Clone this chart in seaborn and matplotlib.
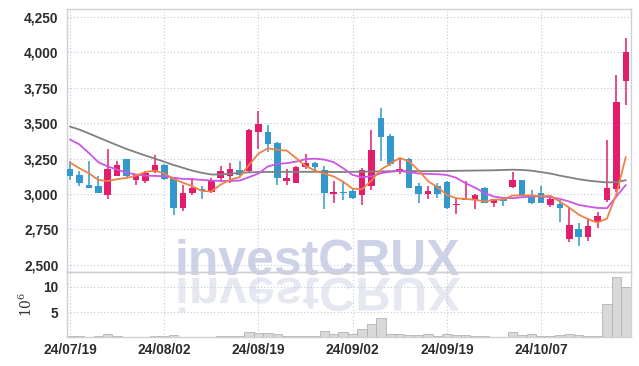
import matplotlib
matplotlib.use('Agg')
import pandas as pd
import matplotlib.pyplot as plt
import seaborn as sns
from matplotlib import font_manager
from matplotlib.textpath import TextPath
from matplotlib.patches import PathPatch
from matplotlib.font_manager import FontProperties
from matplotlib.transforms import Affine2D

# 거래일 (24/07/19 ~ 24/10/21)
dates = ['24/07/19', '24/07/22', '24/07/23', '24/07/24', '24/07/25', '24/07/26', '24/07/29', '24/07/30', '24/07/31', '24/08/01',
         '24/08/02', '24/08/05', '24/08/06', '24/08/07', '24/08/08', '24/08/09', '24/08/12', '24/08/13', '24/08/14', '24/08/16',
         '24/08/19', '24/08/20', '24/08/21', '24/08/22', '24/08/23', '24/08/26', '24/08/27', '24/08/28', '24/08/29', '24/08/30',
         '24/09/02', '24/09/03', '24/09/04', '24/09/05', '24/09/06', '24/09/09', '24/09/10', '24/09/11', '24/09/12', '24/09/13',
         '24/09/19', '24/09/20', '24/09/23', '24/09/24', '24/09/25', '24/09/26', '24/09/27', '24/09/30', '24/10/02', '24/10/04',
         '24/10/07', '24/10/08', '24/10/10', '24/10/11', '24/10/14', '24/10/15', '24/10/16', '24/10/17', '24/10/18', '24/10/21']

opens = [3180, 3135, 3065, 3060, 2995, 3130, 3245, 3100, 3090, 3155,
         3205, 3110, 2905, 3005, 3035, 3015, 3110, 3130, 3170, 3165,
         3435, 3435, 3360, 3095, 3080, 3190, 3220, 3170, 3000, 3015,
         3025, 2995, 3060, 3540, 3410, 3160, 3250, 3055, 3000, 3055,
         3085, 2922, 2960, 2960, 3045, 2935, 2965, 3050, 3100, 2985,
         3005, 2925, 2930, 2685, 2755, 2700, 2805, 2960, 3035, 3800]
closes = [3130, 3080, 3045, 3010, 3175, 3205, 3125, 3140, 3150, 3205,
          3105, 2905, 3005, 3045, 3020, 3100, 3165, 3175, 3135, 3455,
          3495, 3355, 3115, 3115, 3190, 3220, 3190, 3005, 3015, 3005,
          2975, 3170, 3310, 3405, 3210, 3180, 3045, 3000, 3020, 3000,
          2905, 2930, 2968, 2995, 2940, 2965, 2948, 3100, 2995, 2940,
          2940, 2962, 2900, 2780, 2695, 2775, 2845, 3040, 3650, 4000]
highs = [3230, 3165, 3230, 3130, 3315, 3230, 3250, 3145, 3165, 3275,
         3215, 3120, 3065, 3110, 3055, 3110, 3195, 3220, 3230, 3460,
         3585, 3485, 3365, 3175, 3195, 3285, 3225, 3195, 3090, 3095,
         3045, 3185, 3455, 3610, 3425, 3250, 3255, 3075, 3055, 3075,
         3090, 2975, 3090, 2998, 3050, 2968, 2970, 3155, 3100, 3030,
         3055, 2995, 2960, 2905, 2795, 2830, 2870, 3385, 3840, 4100]
lows = [3100, 3060, 3042, 3005, 2965, 3125, 3110, 3065, 3075, 3150,
        3100, 2855, 2880, 2995, 2965, 3010, 3085, 3080, 3130, 3150,
        3320, 3300, 3065, 3062, 3078, 3180, 3170, 2893, 2935, 2960,
        2965, 2923, 3030, 3235, 3200, 3145, 3040, 2935, 2965, 2970,
        2895, 2860, 2958, 2895, 2935, 2908, 2915, 3045, 2990, 2930,
        2935, 2910, 2805, 2660, 2635, 2670, 2760, 2945, 3015, 3630]

# 이동평균선
ma_short = [3222, 3182, 3147, 3100, 3092, 3105, 3114, 3130, 3156, 3165,
            3146, 3106, 3080, 3055, 3022, 3018, 3067, 3101, 3119, 3206,
            3285, 3323, 3311, 3307, 3254, 3199, 3166, 3144, 3124, 3087,
            3038, 3034, 3095, 3173, 3214, 3255, 3230, 3168, 3091, 3049,
            2994, 2971, 2965, 2960, 2948, 2960, 2963, 2990, 2990, 2990,
            2985, 2987, 2947, 2904, 2855, 2822, 2799, 2827, 3001, 3262]
ma_mid = [3385, 3350, 3290, 3225, 3195, 3172, 3152, 3138, 3130, 3128,
          3126, 3115, 3107, 3105, 3100, 3095, 3093, 3093, 3095, 3119,
          3145, 3195, 3213, 3218, 3229, 3246, 3250, 3243, 3225, 3182,
          3135, 3119, 3125, 3147, 3158, 3163, 3155, 3145, 3142, 3140,
          3135, 3115, 3076, 3045, 3008, 2982, 2973, 2971, 2978, 2983,
          2983, 2978, 2966, 2947, 2923, 2912, 2902, 2900, 2983, 3064]
ma_long = [3476, 3455, 3428, 3400, 3372, 3345, 3318, 3295, 3272, 3250,
           3228, 3205, 3185, 3165, 3150, 3138, 3138, 3143, 3150, 3153,
           3155, 3156, 3157, 3157, 3157, 3157, 3157, 3156, 3156, 3156,
           3157, 3158, 3159, 3160, 3161, 3162, 3162, 3162, 3162, 3162,
           3163, 3164, 3165, 3166, 3167, 3168, 3170, 3172, 3170, 3165,
           3155, 3145, 3130, 3118, 3105, 3095, 3088, 3082, 3085, 3098]

# 거래량 (백만 주)
volumes = [0.12, 0.12, 0.10, 0.12, 0.55, 0.15, 0.05, 0.05, 0.10, 0.12,
           0.12, 0.35, 0.05, 0.05, 0.05, 0.08, 0.12, 0.12, 0.15, 0.95,
           0.75, 0.75, 0.55, 0.15, 0.15, 0.12, 0.15, 1.30, 0.55, 0.95,
           0.65, 1.70, 2.70, 3.75, 0.55, 0.55, 0.35, 0.35, 0.70, 0.13,
           0.70, 0.50, 0.50, 0.28, 0.28, 0.07, 0.07, 1.10, 0.35, 0.55,
           0.14, 0.28, 0.50, 0.70, 0.50, 0.28, 0.28, 6.60, 12.0, 10.0]

price_ticks = [2500, 2750, 3000, 3250, 3500, 3750, 4000, 4250]
vol_ticks = [5, 10]

RED = '#e31c6b'
BLUE = '#3399cc'

# 좁은 글꼴이 있으면 사용, 없으면 크기를 줄여서 폭을 맞춤
names = {f.name for f in font_manager.fontManager.ttflist}
if 'Liberation Sans Narrow' in names:
    base_font, shrink = 'Liberation Sans Narrow', 1.0
else:
    base_font, shrink = 'Liberation Sans', 0.86

sns.set_style('white')
plt.rcParams['font.family'] = [base_font, 'DejaVu Sans']

df = pd.DataFrame({'date': dates, 'open': opens, 'close': closes, 'high': highs, 'low': lows,
                   'ma5': ma_short, 'ma10': ma_mid, 'ma60': ma_long, 'vol': volumes})
df['idx'] = range(len(df))
df['up'] = df['close'] >= df['open']
df['body_lo'] = df[['open', 'close']].min(axis=1)
df['body_h'] = (df['close'] - df['open']).abs().clip(lower=8)

fig = plt.figure(figsize=(6.39, 3.66), dpi=100)
fig.patch.set_facecolor('white')
ax = fig.add_axes([67 / 639, 1 - 272 / 366, 564 / 639, 263 / 366])
axv = fig.add_axes([67 / 639, 1 - 337 / 366, 564 / 639, 65 / 366], sharex=ax)

# 워터마크 (축 뒤에)
wm_px = 58 * shrink
fig.text(175 / 639, 1 - 275 / 366, 'investCRUX', fontsize=wm_px * 0.72, fontweight='bold',
         family=[base_font, 'DejaVu Sans'], color='#cdd2e7', ha='left', va='baseline', zorder=-2)
tp = TextPath((0, 0), 'investCRUX', size=wm_px, prop=FontProperties(family=base_font, weight='bold'))
refl = PathPatch(tp, transform=Affine2D().scale(1, -0.95).translate(175, 366 - 278),
                 facecolor='#e6e8f1', edgecolor='none', zorder=-2)
fig.add_artist(refl)

tick_size = 11 * (1.0 if shrink == 1.0 else 0.9)
for a in (ax, axv):
    a.set_facecolor('none')
    for s in a.spines.values():
        s.set_color('#cfcfd6')
        s.set_linewidth(1.0)
    a.set_axisbelow(True)
    a.grid(True, color='#c3c8de', linestyle=(0, (1, 2)), linewidth=0.8)
    a.tick_params(length=0, labelsize=tick_size, colors='#2b2b2b')

# 캔들
for up, col in [(True, RED), (False, BLUE)]:
    d = df[df['up'] == up]
    ax.vlines(d['idx'], d['low'], d['high'], color=col, linewidth=1.1, zorder=2)
    ax.bar(d['idx'], d['body_h'], bottom=d['body_lo'], width=0.7, color=col, linewidth=0, zorder=3)

sns.lineplot(data=df, x='idx', y='ma60', ax=ax, color='#808080', linewidth=1.3, zorder=4)
sns.lineplot(data=df, x='idx', y='ma10', ax=ax, color='#cc55e6', linewidth=1.3, zorder=4)
sns.lineplot(data=df, x='idx', y='ma5', ax=ax, color='#ee8244', linewidth=1.3, zorder=5)

ax.set_ylim(2450, 4306)
ax.set_yticks(price_ticks)
ax.set_yticklabels([f'{v:,}' for v in price_ticks], fontweight='bold')
ax.tick_params(axis='y', pad=6)
ax.tick_params(axis='x', labelbottom=False)
ax.set_xlabel('')
ax.set_ylabel('')

# 거래량
axv.bar(df['idx'], df['vol'], width=1.0, color='#d9d9d9', edgecolor='#b3b3b3', linewidth=0.6, zorder=2)
axv.set_ylim(0, 13)
axv.set_yticks(vol_ticks)
axv.set_yticklabels([str(v) for v in vol_ticks], fontweight='bold')
axv.tick_params(axis='y', pad=6)
axv.set_ylabel(r'$10^{6}$', fontsize=10, color='#333333', math_fontfamily='dejavuserif', labelpad=6)

tick_pos = list(range(0, len(df), 10))
axv.set_xticks(tick_pos)
axv.set_xticklabels([df['date'][i] for i in tick_pos], fontweight='bold')
axv.tick_params(axis='x', pad=4)
axv.set_xlim(-0.32, 59.55)
axv.set_xlabel('')

fig.savefig('out.png', dpi=100, facecolor='white')
